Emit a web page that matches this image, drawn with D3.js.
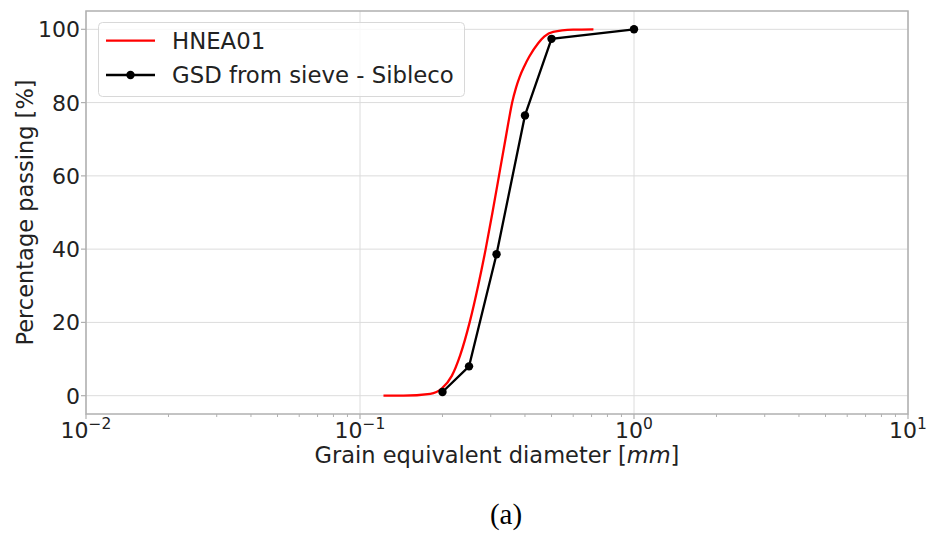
<!DOCTYPE html>
<html>
<head>
<meta charset="utf-8">
<script src="https://cdn.jsdelivr.net/npm/d3@7"></script>
<style>
  body { margin: 0; background: #fff; }
  svg { display: block; font-family: "DejaVu Sans", sans-serif; }
</style>
</head>
<body>
<div id="chart"></div>
<script>
// HNEA01 curve (diameter in mm, % passing)
const hneaDiam = [0.1218, 0.1441, 0.1804, 0.1991, 0.2163, 0.2320, 0.2513, 0.2699, 0.2875, 0.3044,
                  0.3215, 0.3395, 0.3488, 0.3592, 0.3709, 0.3826, 0.3983, 0.4144, 0.4469, 0.4701,
                  0.5070, 0.5998, 0.7111];
const hneaPass = [0, 0, 0.5, 2, 5.4, 11, 20, 30, 40, 50,
                  60, 70, 75, 80, 84, 87, 90, 92.5, 96.2, 98,
                  99.3, 99.9, 100];

// sieve GSD points
const sieveDiam = [0.2, 0.25, 0.315, 0.4, 0.5, 1.0];
const sievePass = [1, 8, 38.6, 76.5, 97.4, 100];

const seriesNames = ["HNEA01", "GSD from sieve - Sibleco"];
const xMajorTicks = [0.01, 0.1, 1, 10];
const xTickExp = ["\u22122", "\u22121", "0", "1"];
const yTicks = [0, 20, 40, 60, 80, 100];

const W = 928, H = 543;
const m = { top: 11, right: 20, bottom: 129, left: 86 };

const svg = d3.select("#chart").append("svg")
  .attr("width", W)
  .attr("height", H);

const x = d3.scaleLog().domain([0.01, 10]).range([m.left, W - m.right]);
const y = d3.scaleLinear().domain([-5, 105]).range([H - m.bottom, m.top]);

const gridCol = "#dcdcdc";
const spineCol = "#b0b0b0";

// grid
svg.append("g").selectAll("line")
  .data(yTicks)
  .join("line")
    .attr("x1", m.left).attr("x2", W - m.right)
    .attr("y1", d => y(d)).attr("y2", d => y(d))
    .attr("stroke", gridCol).attr("stroke-width", 1);

svg.append("g").selectAll("line")
  .data(xMajorTicks)
  .join("line")
    .attr("x1", d => x(d)).attr("x2", d => x(d))
    .attr("y1", m.top).attr("y2", H - m.bottom)
    .attr("stroke", gridCol).attr("stroke-width", 1);

// minor x ticks
const minor = [];
[0.01, 0.1, 1].forEach(dec => { for (let k = 2; k <= 9; k++) minor.push(dec * k); });
svg.append("g").selectAll("line")
  .data(minor)
  .join("line")
    .attr("x1", d => x(d)).attr("x2", d => x(d))
    .attr("y1", H - m.bottom).attr("y2", H - m.bottom + 3)
    .attr("stroke", spineCol).attr("stroke-width", 1);

// major ticks
svg.append("g").selectAll("line")
  .data(xMajorTicks)
  .join("line")
    .attr("x1", d => x(d)).attr("x2", d => x(d))
    .attr("y1", H - m.bottom).attr("y2", H - m.bottom + 5)
    .attr("stroke", spineCol).attr("stroke-width", 1.2);

svg.append("g").selectAll("line")
  .data(yTicks)
  .join("line")
    .attr("x1", m.left - 5).attr("x2", m.left)
    .attr("y1", d => y(d)).attr("y2", d => y(d))
    .attr("stroke", spineCol).attr("stroke-width", 1.2);

// frame
svg.append("rect")
  .attr("x", m.left).attr("y", m.top)
  .attr("width", W - m.right - m.left)
  .attr("height", H - m.bottom - m.top)
  .attr("fill", "none")
  .attr("stroke", spineCol)
  .attr("stroke-width", 1.5);

// y tick labels
svg.append("g").selectAll("text")
  .data(yTicks)
  .join("text")
    .attr("x", m.left - 6)
    .attr("y", d => y(d))
    .attr("dy", "0.36em")
    .attr("text-anchor", "end")
    .attr("font-size", 22)
    .attr("fill", "#222")
    .text(d => d);

// x tick labels (10^n)
const xl = svg.append("g").selectAll("text")
  .data(xMajorTicks)
  .join("text")
    .attr("x", d => x(d))
    .attr("y", 438)
    .attr("text-anchor", "middle")
    .attr("font-size", 22)
    .attr("fill", "#222");
xl.append("tspan").text("10");
xl.append("tspan")
  .attr("font-size", 15.5)
  .attr("dy", -9)
  .text((d, i) => xTickExp[i]);

// axis labels
const xlab = svg.append("text")
  .attr("x", (m.left + W - m.right) / 2)
  .attr("y", 463)
  .attr("text-anchor", "middle")
  .attr("font-size", 22.5)
  .attr("fill", "#222");
xlab.append("tspan").text("Grain equivalent diameter [");
xlab.append("tspan").attr("font-style", "italic").text("mm");
xlab.append("tspan").text("]");

svg.append("text")
  .attr("transform", `translate(33,${(m.top + H - m.bottom) / 2}) rotate(-90)`)
  .attr("text-anchor", "middle")
  .attr("font-size", 22.5)
  .attr("fill", "#222")
  .text("Percentage passing [%]");

// series
const hnea = hneaDiam.map((d, i) => [d, hneaPass[i]]);
const sieve = sieveDiam.map((d, i) => [d, sievePass[i]]);

svg.append("path")
  .datum(hnea)
  .attr("fill", "none")
  .attr("stroke", "#ff0000")
  .attr("stroke-width", 2.3)
  .attr("d", d3.line().x(d => x(d[0])).y(d => y(d[1])).curve(d3.curveMonotoneX));

svg.append("path")
  .datum(sieve)
  .attr("fill", "none")
  .attr("stroke", "#000")
  .attr("stroke-width", 2.3)
  .attr("d", d3.line().x(d => x(d[0])).y(d => y(d[1])));

svg.append("g").selectAll("circle")
  .data(sieve)
  .join("circle")
    .attr("cx", d => x(d[0]))
    .attr("cy", d => y(d[1]))
    .attr("r", 4.2)
    .attr("fill", "#000");

// legend
const lg = svg.append("g");
lg.append("rect")
  .attr("x", 98.5).attr("y", 22.5)
  .attr("width", 366).attr("height", 74)
  .attr("rx", 4)
  .attr("fill", "#fff").attr("fill-opacity", 0.8)
  .attr("stroke", "#d8d8d8");
const rows = [40.7, 75];
lg.append("line")
  .attr("x1", 106).attr("x2", 155).attr("y1", rows[0]).attr("y2", rows[0])
  .attr("stroke", "#ff0000").attr("stroke-width", 2.3);
lg.append("line")
  .attr("x1", 106).attr("x2", 155).attr("y1", rows[1]).attr("y2", rows[1])
  .attr("stroke", "#000").attr("stroke-width", 2.3);
lg.append("circle").attr("cx", 130.5).attr("cy", rows[1]).attr("r", 4.2).attr("fill", "#000");
lg.selectAll("text.lab")
  .data(seriesNames)
  .join("text")
    .attr("class", "lab")
    .attr("x", 172)
    .attr("y", (d, i) => rows[i])
    .attr("dy", "0.36em")
    .attr("font-size", 22.8)
    .attr("fill", "#222")
    .text(d => d);

// panel caption
svg.append("text")
  .attr("x", 506).attr("y", 524)
  .attr("text-anchor", "middle")
  .attr("font-family", "'Liberation Serif', 'Times New Roman', serif")
  .attr("font-size", 29)
  .attr("fill", "#000")
  .text("(a)");
</script>
</body>
</html>
